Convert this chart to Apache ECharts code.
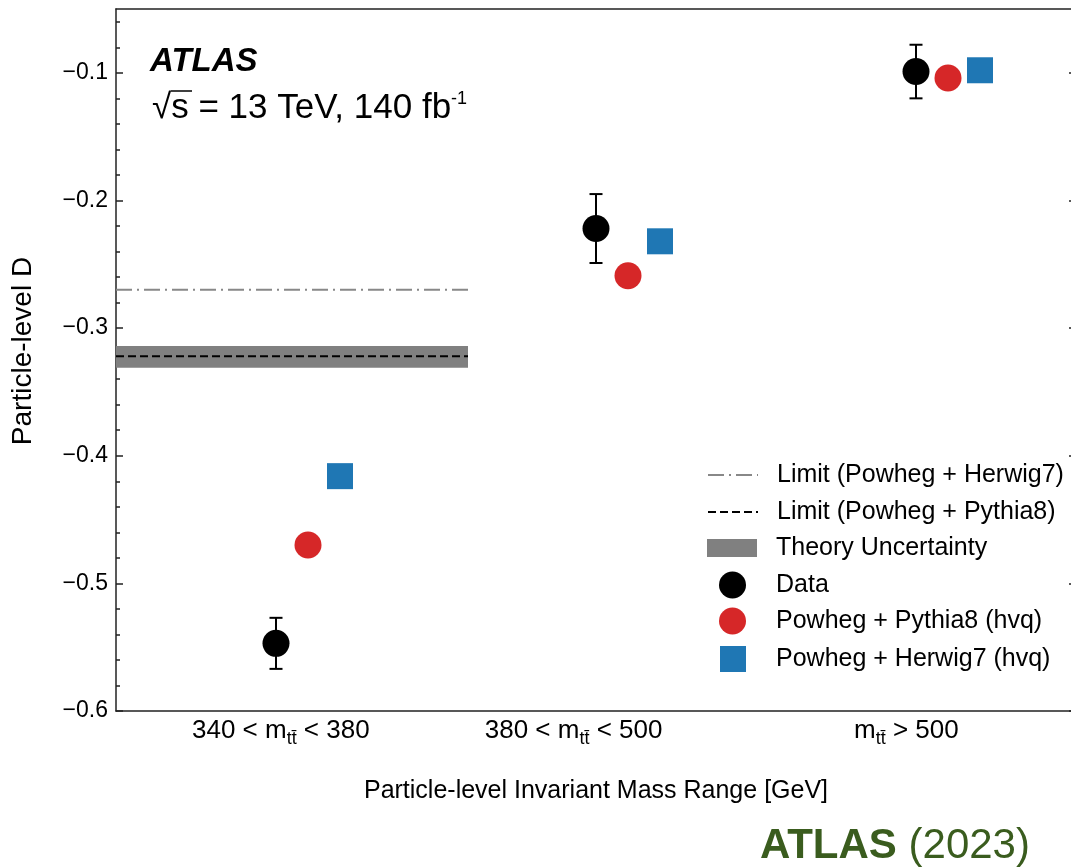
<!DOCTYPE html>
<html>
<head>
<meta charset="utf-8">
<title>Particle-level D vs invariant mass range</title>
<script src="https://cdn.jsdelivr.net/npm/echarts@6/dist/echarts.min.js"></script>
<style>
  html, body { margin: 0; padding: 0; background: #fff; }
  #chart { width: 1071px; height: 868px; }
</style>
</head>
<body>
<div id="chart"></div>
<script>
// ---- values ----
const binLabels = ['340 < m{s|tt\u0304} < 380', '380 < m{s|tt\u0304} < 500', 'm{s|tt\u0304} > 500'];
const binCenters = [0, 1, 2];
const dataD = [-0.547, -0.222, -0.099];
const dataErr = [0.020, 0.027, 0.021];
const pythiaD = [-0.470, -0.259, -0.104];
const herwigD = [-0.416, -0.232, -0.098];
const limitHerwig = -0.270;
const limitPythia = -0.322;
const theoryBand = [-0.331, -0.314];
const limitSpan = [-0.6, 0.5];
const yMajorTicks = [-0.6, -0.5, -0.4, -0.3, -0.2, -0.1];

// ---- layout constants ----
const FONT = '"Liberation Sans", Arial, Helvetica, sans-serif';
const X_MIN = -0.6, X_MAX = 2.4;
const Y_MIN = -0.6, Y_MAX = -0.05;
const OFFSET = { data: -0.1, pythia: 0, herwig: 0.1 };
const labelPos = [-0.085, 0.83, 1.87];
const AXIS_COLOR = '#222';

const yMinorTicks = [];
for (let k = -29; k <= -3; k++) {
  if (k % 5 !== 0) yMinorTicks.push(+(k * 0.02).toFixed(2));
}

const dataPts = binCenters.map((c, i) => [c + OFFSET.data, dataD[i]]);
const errPts = binCenters.map((c, i) => [c + OFFSET.data, dataD[i] - dataErr[i], dataD[i] + dataErr[i]]);
const pythiaPts = binCenters.map((c, i) => [c + OFFSET.pythia, pythiaD[i]]);
const herwigPts = binCenters.map((c, i) => [c + OFFSET.herwig, herwigD[i]]);

const chart = echarts.init(document.getElementById('chart'), null, { renderer: 'canvas' });

function yAxisDef(position, ticks, len, withLine, withLabel) {
  return {
    type: 'value', position: position, min: Y_MIN, max: Y_MAX, interval: 0.1,
    axisLine: { show: withLine, onZero: false, lineStyle: { color: AXIS_COLOR, width: 1.5 } },
    axisTick: { show: true, inside: true, length: len, customValues: ticks,
                lineStyle: { color: AXIS_COLOR, width: 1.5 } },
    axisLabel: withLabel ? {
      show: true, customValues: yMajorTicks, margin: 8, color: '#000',
      fontFamily: FONT, fontSize: 23,
      formatter: v => '\u2212' + Math.abs(v).toFixed(1)
    } : { show: false },
    splitLine: { show: false },
    name: withLabel ? 'Particle-level D' : '',
    nameLocation: 'middle', nameGap: 79,
    nameTextStyle: { fontFamily: FONT, fontSize: 28, color: '#000', padding: [0, 0, 0, 18] }
  };
}

const legendText = (pad) => ({ fontFamily: FONT, fontSize: 25, color: '#000', lineHeight: 28, padding: [0, 0, 0, pad] });

function legendRow(name, top, opts) {
  return Object.assign({
    top: top, left: 707, padding: 0, orient: 'vertical',
    itemWidth: 50, itemHeight: 14, selectedMode: false,
    data: [name],
    // line rows: keep the stroke, hide the marker drawn on top of it
    itemStyle: { opacity: 0 },
    textStyle: legendText(14)
  }, opts || {});
}

const symbolRow = { itemStyle: { opacity: 1 } };

const option = {
  animation: false,
  backgroundColor: '#fff',
  grid: { left: 116, top: 9, width: 960, height: 702, containLabel: false, outerBoundsMode: 'none' },
  xAxis: [
    {
      type: 'value', position: 'bottom', min: X_MIN, max: X_MAX,
      axisLine: { show: true, onZero: false, lineStyle: { color: AXIS_COLOR, width: 1.5 } },
      axisTick: { show: false },
      splitLine: { show: false },
      axisLabel: {
        show: true, customValues: labelPos, margin: 7, color: '#000',
        fontFamily: FONT, fontSize: 26, lineHeight: 26,
        formatter: (v) => binLabels[labelPos.indexOf(v)] || '',
        rich: { s: { fontFamily: FONT, fontSize: 18, lineHeight: 18, padding: [16, 0, 0, 0], color: '#000' } }
      },
      name: 'Particle-level Invariant Mass Range [GeV]',
      nameLocation: 'middle', nameGap: 68,
      nameTextStyle: { fontFamily: FONT, fontSize: 25, color: '#000' }
    },
    {
      type: 'value', position: 'top', min: X_MIN, max: X_MAX,
      axisLine: { show: true, onZero: false, lineStyle: { color: AXIS_COLOR, width: 1.5 } },
      axisTick: { show: false }, axisLabel: { show: false }, splitLine: { show: false }
    }
  ],
  yAxis: [
    yAxisDef('left', yMajorTicks, 7, true, true),
    yAxisDef('left', yMinorTicks, 4, false, false),
    yAxisDef('right', yMajorTicks, 7, true, false),
    yAxisDef('right', yMinorTicks, 4, false, false)
  ],
  legend: [
    legendRow('Limit (Powheg + Herwig7)', 461),
    legendRow('Limit (Powheg + Pythia8)', 498),
    legendRow('Theory Uncertainty', 534, Object.assign({ itemHeight: 18,
      data: [{ name: 'Theory Uncertainty', icon: 'rect' }] }, symbolRow)),
    legendRow('Data', 571, Object.assign({ left: 719, itemWidth: 27, itemHeight: 27,
      data: [{ name: 'Data', icon: 'circle' }], textStyle: legendText(25) }, symbolRow)),
    legendRow('Powheg + Pythia8 (hvq)', 607, Object.assign({ left: 719, itemWidth: 27, itemHeight: 27,
      data: [{ name: 'Powheg + Pythia8 (hvq)', icon: 'circle' }], textStyle: legendText(25) }, symbolRow)),
    legendRow('Powheg + Herwig7 (hvq)', 645, Object.assign({ left: 720, itemWidth: 26, itemHeight: 26,
      data: [{ name: 'Powheg + Herwig7 (hvq)', icon: 'rect' }], textStyle: legendText(25) }, symbolRow))
  ],
  graphic: [
    { type: 'text', z: 10, style: { x: 150, y: 62, text: 'ATLAS', verticalAlign: 'middle',
        font: 'italic bold 33px ' + FONT, fill: '#000' } },
    { type: 'text', z: 10, style: { x: 152, y: 108, verticalAlign: 'middle',
        text: '\u221As = 13 TeV, 140 fb{p|-1}', font: '35px ' + FONT, fill: '#000',
        rich: { p: { fontFamily: FONT, fontSize: 18, verticalAlign: 'top', padding: [0, 0, 14, 0] } } } },
    { type: 'line', z: 10, shape: { x1: 171, y1: 91, x2: 192, y2: 91 }, style: { stroke: '#000', lineWidth: 1.5 } },
    { type: 'text', z: 10, style: { x: 760, y: 846, verticalAlign: 'middle',
        text: '{b|ATLAS} (2023)', font: '42px ' + FONT, fill: '#3a5c1e',
        rich: { b: { fontFamily: FONT, fontSize: 42, fontWeight: 'bold', fill: '#3a5c1e', color: '#3a5c1e' } } } }
  ],
  series: [
    {
      name: 'Theory Uncertainty', type: 'custom', z: 1,
      itemStyle: { color: '#808080' },
      data: [[limitSpan[0], limitSpan[1], theoryBand[0], theoryBand[1]]],
      renderItem: function (params, api) {
        const p0 = api.coord([api.value(0), api.value(3)]);
        const p1 = api.coord([api.value(1), api.value(2)]);
        return { type: 'rect', shape: { x: p0[0], y: p0[1], width: p1[0] - p0[0], height: p1[1] - p0[1] },
                 style: { fill: '#808080' } };
      },
      encode: { x: [0, 1], y: [2, 3] }
    },
    {
      name: 'Limit (Powheg + Herwig7)', type: 'line', z: 2, symbol: 'none', showSymbol: false,
      color: '#888888',
      lineStyle: { color: '#888888', width: 2, type: [16, 5, 2, 5] },
      data: [[limitSpan[0], limitHerwig], [limitSpan[1], limitHerwig]]
    },
    {
      name: 'Limit (Powheg + Pythia8)', type: 'line', z: 2, symbol: 'none', showSymbol: false,
      color: '#000',
      lineStyle: { color: '#000', width: 2, type: [8, 4] },
      data: [[limitSpan[0], limitPythia], [limitSpan[1], limitPythia]]
    },
    {
      name: 'Data errors', type: 'custom', z: 3,
      data: errPts,
      encode: { x: 0, y: [1, 2] },
      renderItem: function (params, api) {
        const x = api.value(0);
        const lo = api.coord([x, api.value(1)]);
        const hi = api.coord([x, api.value(2)]);
        const hw = 6.5;
        const st = { stroke: '#000', lineWidth: 2 };
        return { type: 'group', children: [
          { type: 'line', shape: { x1: lo[0], y1: lo[1], x2: hi[0], y2: hi[1] }, style: st },
          { type: 'line', shape: { x1: lo[0] - hw, y1: lo[1], x2: lo[0] + hw, y2: lo[1] }, style: st },
          { type: 'line', shape: { x1: hi[0] - hw, y1: hi[1], x2: hi[0] + hw, y2: hi[1] }, style: st }
        ] };
      }
    },
    {
      name: 'Data', type: 'scatter', z: 4, symbol: 'circle', symbolSize: 27,
      itemStyle: { color: '#000', opacity: 1 }, data: dataPts
    },
    {
      name: 'Powheg + Pythia8 (hvq)', type: 'scatter', z: 4, symbol: 'circle', symbolSize: 27,
      itemStyle: { color: '#d62728', opacity: 1 }, data: pythiaPts
    },
    {
      name: 'Powheg + Herwig7 (hvq)', type: 'scatter', z: 4, symbol: 'rect', symbolSize: 26,
      itemStyle: { color: '#1f77b4', opacity: 1 }, data: herwigPts
    }
  ]
};

chart.setOption(option);
</script>
</body>
</html>
